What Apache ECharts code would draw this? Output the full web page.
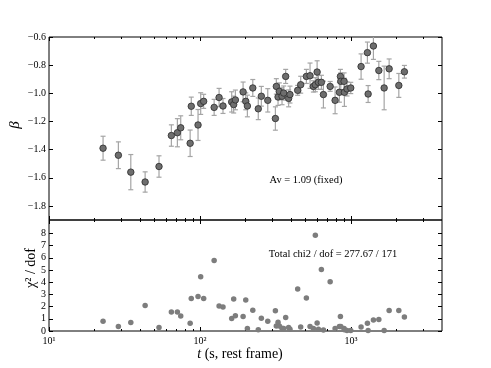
<!DOCTYPE html>
<html>
<head>
<meta charset="utf-8">
<script src="https://cdn.jsdelivr.net/npm/echarts@6/dist/echarts.min.js"></script>
<style>
  body { margin: 0; background: #fff; }
  #main { width: 491px; height: 368px; }
</style>
</head>
<body>
<div id="main"></div>
<script>
// time bins (s, rest frame)
const tSec = [22.8, 28.8, 34.8, 43.3, 53.5, 64.6, 70.8, 74.5, 86, 87.5,
  97, 101, 105.7, 124, 133.7, 141.9, 162, 167, 171.4, 192.8,
  200.8, 205.8, 223.5, 243, 254.6, 280.8, 315.4, 320, 328.5, 335,
  349, 358, 369, 386, 394, 443, 464, 506, 535, 563,
  580, 596, 608, 636, 656, 727, 784, 837, 850, 855,
  899, 903, 940, 995, 1165, 1283, 1297, 1406, 1527, 1656,
  1787, 2071, 2255];

// spectral index beta
const beta = [-1.39, -1.44, -1.56, -1.63, -1.52, -1.30, -1.28, -1.245, -1.355, -1.092,
  -1.225, -1.073, -1.057, -1.10, -1.03, -1.09, -1.061, -1.08, -1.047, -0.99,
  -1.057, -1.09, -0.962, -1.11, -1.021, -1.05, -1.179, -0.951, -1.026, -0.986,
  -1.021, -0.998, -0.88, -1.036, -1.009, -0.979, -0.939, -0.88, -0.875, -0.951,
  -0.939, -0.849, -0.922, -0.922, -1.009, -0.951, -1.05, -0.993, -0.88, -0.915,
  -0.915, -0.993, -0.969, -0.962, -0.81, -0.711, -1.005, -0.664, -0.838, -0.962,
  -0.826, -0.944, -0.847];

const betaErr = [0.085, 0.095, 0.125, 0.072, 0.076, 0.076, 0.10, 0.085, 0.094, 0.065,
  0.11, 0.077, 0.05, 0.057, 0.065, 0.053, 0.072, 0.06, 0.07, 0.07,
  0.06, 0.077, 0.06, 0.077, 0.07, 0.083, 0.083, 0.055, 0.06, 0.06,
  0.06, 0.05, 0.05, 0.06, 0.06, 0.035, 0.06, 0.05, 0.09, 0.04,
  0.05, 0.08, 0.05, 0.05, 0.095, 0.035, 0.095, 0.07, 0.05, 0.06,
  0.06, 0.1, 0.05, 0.04, 0.09, 0.075, 0.06, 0.095, 0.065, 0.155,
  0.07, 0.085, 0.045];

// reduced chi2 per bin
const chi2 = [0.8, 0.36, 0.69, 2.1, 0.28, 1.56, 1.56, 1.23, 0.63, 2.66,
  2.83, 4.44, 2.66, 5.78, 2.05, 1.97, 1.02, 2.63, 1.26, 1.18,
  2.55, 0.2, 1.7, 0.1, 1.04, 0.8, 1.65, 0.41, 0.71, 0.41,
  0.22, 0.2, 1.1, 0.28, 0.15, 3.45, 0.33, 2.71, 0.36, 0.2,
  7.84, 0.66, 0.15, 5.04, 0.08, 4.03, 0.2, 0.36, 1.18, 0.36,
  0.2, 0.1, 0.05, 0.05, 0.33, 0.63, 0.05, 0.9, 0.94, 0.05,
  1.68, 1.68, 1.15];

// ticks
const xMajorTicks = [10, 100, 1000];
const xMinorTicks = [20, 30, 40, 50, 60, 70, 80, 90, 200, 300, 400, 500, 600, 700, 800, 900, 2000, 3000];
const betaTicks = [-1.8, -1.6, -1.4, -1.2, -1.0, -0.8, -0.6];
const chiTicks = [0, 1, 2, 3, 4, 5, 6, 7, 8];

const serif = '"Liberation Serif", "DejaVu Serif", serif';
const supDigits = { 1: '¹', 2: '²', 3: '³' };

const chart = echarts.init(document.getElementById('main'));

function xAxisDef(gridIndex, position, ticks, len, showLabel) {
  return {
    type: 'log', gridIndex: gridIndex, position: position,
    min: 10, max: 4000,
    axisLine: { show: false, onZero: false },
    splitLine: { show: false },
    axisTick: { show: true, inside: true, length: len, customValues: ticks, lineStyle: { color: '#000', width: 1 } },
    axisLabel: {
      show: showLabel, customValues: xMajorTicks, margin: 5,
      fontFamily: serif, fontSize: 10, color: '#000',
      formatter: v => '10' + supDigits[Math.round(Math.log10(v))]
    }
  };
}

function yAxisDef(gridIndex, position, min, max, ticks, showLabel, fmt) {
  return {
    type: 'value', gridIndex: gridIndex, position: position,
    min: min, max: max,
    axisLine: { show: false, onZero: false },
    splitLine: { show: false },
    axisTick: { show: true, inside: true, length: 4, customValues: ticks, lineStyle: { color: '#000', width: 1 } },
    axisLabel: {
      show: showLabel, customValues: ticks, margin: 3,
      fontFamily: serif, fontSize: 10, color: '#000',
      formatter: fmt
    }
  };
}

const betaFmt = v => (v < 0 ? '\u2212' : '') + Math.abs(v).toFixed(1);
const chiFmt = v => String(v);

const option = {
  animation: false,
  backgroundColor: '#fff',
  grid: [
    { left: 49, top: 37, width: 393, height: 183, show: true, borderColor: '#000', borderWidth: 1, backgroundColor: 'transparent' },
    { left: 49, top: 220, width: 393, height: 111, show: true, borderColor: '#000', borderWidth: 1, backgroundColor: 'transparent' }
  ],
  xAxis: [
    xAxisDef(0, 'bottom', xMajorTicks, 4, false),
    xAxisDef(0, 'bottom', xMinorTicks, 2, false),
    xAxisDef(0, 'top', xMajorTicks, 4, false),
    xAxisDef(0, 'top', xMinorTicks, 2, false),
    xAxisDef(1, 'bottom', xMajorTicks, 4, true),
    xAxisDef(1, 'bottom', xMinorTicks, 2, false),
    xAxisDef(1, 'top', xMajorTicks, 4, false),
    xAxisDef(1, 'top', xMinorTicks, 2, false)
  ],
  yAxis: [
    yAxisDef(0, 'left', -1.9, -0.6, betaTicks, true, betaFmt),
    yAxisDef(0, 'right', -1.9, -0.6, betaTicks, false, betaFmt),
    yAxisDef(1, 'left', 0, 9.1, chiTicks, true, chiFmt),
    yAxisDef(1, 'right', 0, 9.1, chiTicks, false, chiFmt)
  ],
  series: [
    {
      // error bars
      type: 'custom',
      xAxisIndex: 0, yAxisIndex: 0,
      clip: true,
      data: tSec.map((t, i) => [t, beta[i] - betaErr[i], beta[i] + betaErr[i]]),
      encode: { x: 0, y: [1, 2] },
      renderItem: function (params, api) {
        const lo = api.coord([api.value(0), api.value(1)]);
        const hi = api.coord([api.value(0), api.value(2)]);
        const w = 2.5;
        const st = { stroke: '#a5a5a5', lineWidth: 1.2 };
        return {
          type: 'group',
          children: [
            { type: 'line', shape: { x1: lo[0], y1: lo[1], x2: hi[0], y2: hi[1] }, style: st },
            { type: 'line', shape: { x1: lo[0] - w, y1: lo[1], x2: lo[0] + w, y2: lo[1] }, style: st },
            { type: 'line', shape: { x1: hi[0] - w, y1: hi[1], x2: hi[0] + w, y2: hi[1] }, style: st }
          ]
        };
      }
    },
    {
      type: 'scatter',
      xAxisIndex: 0, yAxisIndex: 0,
      data: tSec.map((t, i) => [t, beta[i]]),
      symbol: 'circle', symbolSize: 6.5,
      itemStyle: { color: '#6e6e6e', borderColor: '#2b2b2b', borderWidth: 0.8, opacity: 1 }
    },
    {
      type: 'scatter',
      xAxisIndex: 4, yAxisIndex: 2,
      data: tSec.map((t, i) => [t, chi2[i]]),
      symbol: 'circle', symbolSize: 5.5,
      itemStyle: { color: '#7d7d7d', opacity: 1 }
    }
  ],
  graphic: [
    { type: 'text', x: 15, y: 125, rotation: Math.PI / 2,
      style: { text: 'β', fontFamily: serif, fontStyle: 'italic', fontSize: 15, fill: '#000', align: 'center', verticalAlign: 'middle' } },
    { type: 'text', x: 31, y: 268, rotation: Math.PI / 2,
      style: { text: 'χ² / dof', fontFamily: serif, fontSize: 14, fill: '#000', align: 'center', verticalAlign: 'middle' } },
    { type: 'text', x: 240, y: 354,
      style: {
        text: '{i|t} (s, rest frame)', fontFamily: serif, fontSize: 14, fill: '#000', align: 'center', verticalAlign: 'middle',
        rich: { i: { fontFamily: serif, fontStyle: 'italic', fontSize: 14 } }
      } },
    { type: 'text', x: 306, y: 180,
      style: { text: 'Av = 1.09 (fixed)', fontFamily: serif, fontSize: 10.5, fill: '#000', align: 'center', verticalAlign: 'middle' } },
    { type: 'text', x: 333, y: 254,
      style: { text: 'Total chi2 / dof = 277.67 / 171', fontFamily: serif, fontSize: 10.5, fill: '#000', align: 'center', verticalAlign: 'middle' } }
  ]
};

chart.setOption(option);
</script>
</body>
</html>
